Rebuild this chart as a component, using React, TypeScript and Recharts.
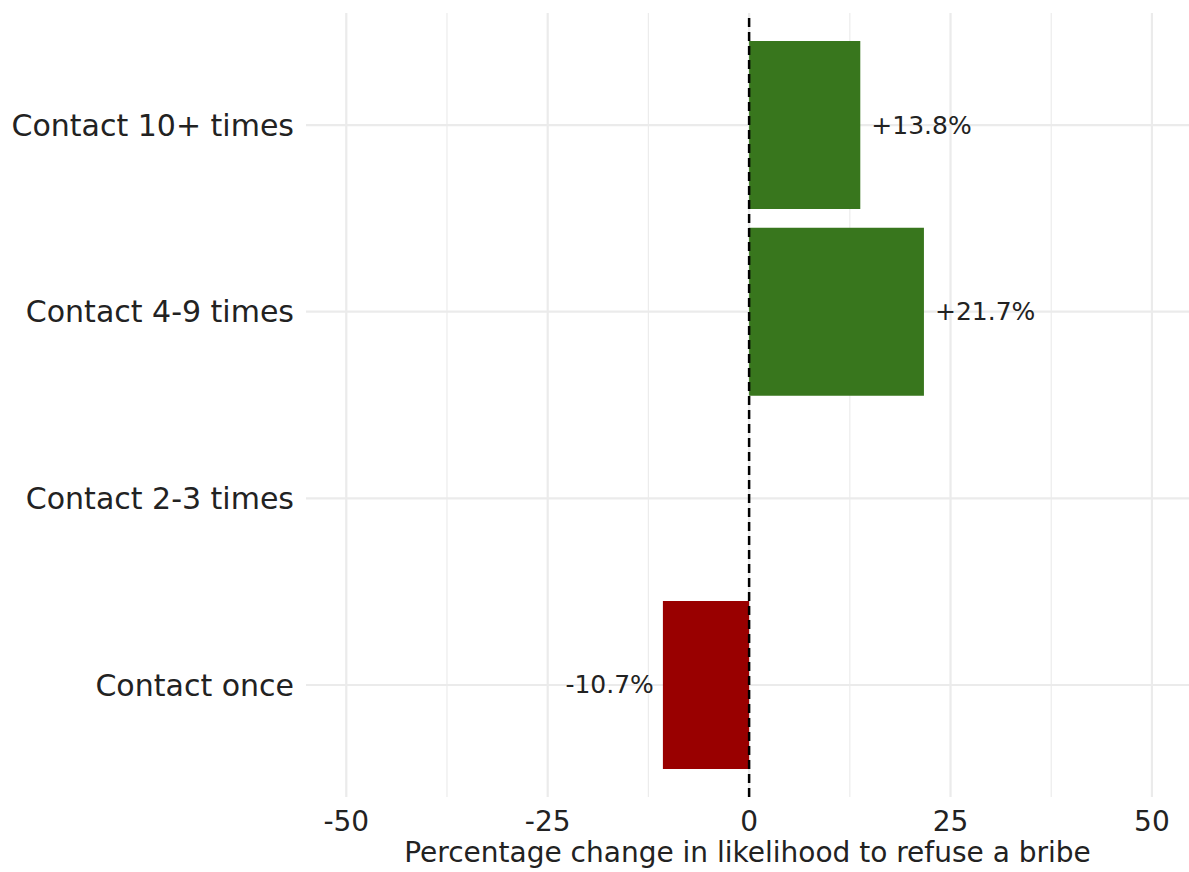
import React from 'react';
import { BarChart, Bar, XAxis, YAxis, CartesianGrid, ReferenceLine, LabelList, Cell } from 'recharts';

const categories = ['Contact 10+ times', 'Contact 4-9 times', 'Contact 2-3 times', 'Contact once'];
const values: (number | null)[] = [13.8, 21.7, null, -10.7];
const majorTicks = [-50, -25, 0, 25, 50];
const minorTicks = [-37.5, -12.5, 12.5, 37.5];
const positiveColor = '#38761d';
const negativeColor = '#990000';
const xTitle = 'Percentage change in likelihood to refuse a bribe';

const data = categories.map((c, i) => ({ category: c, value: values[i] }));

const FONT = '"DejaVu Sans", Lato, sans-serif';
const DOMAIN: [number, number] = [-55, 54.6];
const Y_PAD = 18.7;

const makeGen = (vals: number[]) => (props: any) => {
  const { xAxis, offset } = props;
  if (xAxis && typeof xAxis.scale === 'function') {
    return vals.map((v) => xAxis.scale(v));
  }
  return vals.map((v) => offset.left + ((v - DOMAIN[0]) / (DOMAIN[1] - DOMAIN[0])) * offset.width);
};

const hGen = (props: any) => {
  const { yAxis, offset } = props;
  if (yAxis && typeof yAxis.scale === 'function' && typeof yAxis.scale.bandwidth === 'function') {
    const bw = yAxis.scale.bandwidth();
    return categories.map((c) => yAxis.scale(c) + bw / 2);
  }
  const inner = offset.height - 2 * Y_PAD;
  const band = inner / categories.length;
  return categories.map((_, i) => offset.top + Y_PAD + band * (i + 0.5));
};

const renderLabel = (props: any) => {
  const { x, y, width, height, value } = props;
  if (value === null || value === undefined) return null;
  const left = Math.min(x, x + width);
  const right = Math.max(x, x + width);
  const cy = y + height / 2;
  const txt = (value > 0 ? '+' : '') + Number(value).toFixed(1) + '%';
  return (
    <text
      x={value >= 0 ? right + 11 : left - 9}
      y={cy}
      textAnchor={value >= 0 ? 'start' : 'end'}
      dominantBaseline="central"
      fontSize={25}
      fontFamily={FONT}
      fill="#222"
    >
      {txt}
    </text>
  );
};

export default function App() {
  return (
    <div style={{ position: 'absolute', left: 0, top: 0, background: '#fff' }}>
      <BarChart
        width={1189}
        height={872}
        data={data}
        layout="vertical"
        margin={{ top: 13, right: 0, bottom: 0, left: 0 }}
        barCategoryGap="5%"
      >
        <CartesianGrid
          horizontal={false}
          vertical
          stroke="#ececec"
          strokeWidth={1.2}
          verticalCoordinatesGenerator={makeGen(minorTicks)}
        />
        <CartesianGrid
          horizontal
          vertical
          stroke="#ebebeb"
          strokeWidth={2.2}
          verticalCoordinatesGenerator={makeGen(majorTicks)}
          horizontalCoordinatesGenerator={hGen}
        />
        <XAxis
          type="number"
          dataKey="value"
          domain={DOMAIN}
          ticks={majorTicks}
          allowDataOverflow
          axisLine={false}
          tickLine={false}
          tickSize={0}
          tickMargin={14}
          height={75}
          tick={{ fontSize: 28, fontFamily: FONT, fill: '#222' }}
          label={{
            value: xTitle,
            position: 'insideBottom',
            offset: 10,
            fontSize: 28,
            fontFamily: FONT,
            fill: '#222',
          }}
        />
        <YAxis
          type="category"
          dataKey="category"
          width={306}
          axisLine={false}
          tickLine={false}
          tickSize={0}
          tickMargin={12}
          padding={{ top: Y_PAD, bottom: Y_PAD }}
          tick={{ fontSize: 30, fontFamily: FONT, fill: '#222' }}
        />
        <Bar dataKey="value" isAnimationActive={false}>
          {data.map((d, i) => (
            <Cell key={i} fill={(d.value ?? 0) >= 0 ? positiveColor : negativeColor} />
          ))}
          <LabelList dataKey="value" content={renderLabel} />
        </Bar>
        <ReferenceLine x={0} stroke="#000" strokeWidth={2.5} strokeDasharray="9 5" />
      </BarChart>
    </div>
  );
}
